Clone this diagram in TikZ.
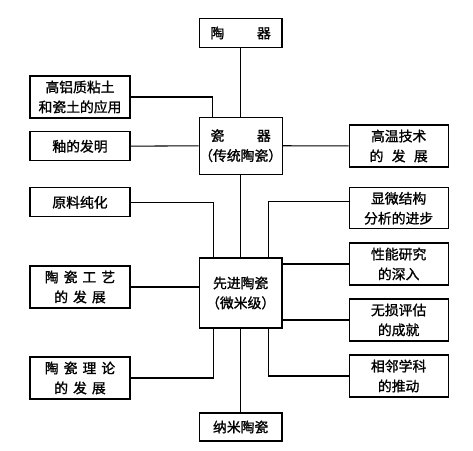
\documentclass[tikz,border=0pt]{standalone}
\usepackage{fontspec}
\newfontfamily\cjk[FakeBold=1.2]{Noto Sans CJK SC}
\newcommand{\zgap}{\hspace{0.15cm}}
\newcommand{\wgap}{\hspace{0.98cm}}
\tikzset{
  box/.style={draw,line width=1pt,align=center,inner sep=0pt,
    minimum width=3cm,minimum height=1.26cm},
  core/.style={box,minimum width=2.48cm},
  link/.style={line width=0.9pt}
}

\begin{document}
\begin{tikzpicture}[font=\cjk\fontsize{11.8pt}{17pt}\selectfont]
  \useasboundingbox (0,0) rectangle (14.19,-13.53);
  % main line
  \node[core,minimum height=0.87cm] (taoqi) at (7.22,-0.99) {陶\wgap 器};
  \node[core,minimum height=1.71cm] (ciqi) at (7.22,-4.37)
    {瓷\wgap 器\\（传统陶瓷）};
  \node[core,minimum height=2.1cm] (xianjin) at (7.22,-8.79)
    {先进陶瓷\\（微米级）};
  \node[core,minimum height=0.84cm] (nami) at (7.22,-12.81) {纳米陶瓷};

  % left side
  \node[box] (gaolv) at (2.4,-2.91) {高铝质粘土\\和瓷土的应用};
  \node[box,minimum height=0.87cm] (you) at (2.4,-4.39) {釉的发明};
  \node[box,minimum height=0.87cm] (yuanliao) at (2.4,-6.07) {原料纯化};
  \node[box] (gongyi) at (2.4,-8.61)
    {陶\zgap 瓷\zgap 工\zgap 艺\\的\zgap 发\zgap 展};
  \node[box] (lilun) at (2.4,-11.34)
    {陶\zgap 瓷\zgap 理\zgap 论\\的\zgap 发\zgap 展};

  % right side
  \node[box,minimum width=2.97cm] (gaowen) at (11.96,-4.38)
    {高温技术\\的\hspace{0.25cm}发\hspace{0.25cm}展};
  \node[box,minimum width=2.97cm,minimum height=1.23cm] (xianwei) at (11.96,-6.25)
    {显微结构\\分析的进步};
  \node[box,minimum width=2.97cm] (xingneng) at (11.96,-7.92) {性能研究\\的深入};
  \node[box,minimum width=2.97cm] (wusun) at (11.96,-9.6) {无损评估\\的成就};
  \node[box,minimum width=2.97cm] (xianglin) at (11.96,-11.28) {相邻学科\\的推动};

  \draw[link] (taoqi) -- (ciqi);
  \draw[link] (ciqi) -- (xianjin);
  \draw[link] (xianjin) -- (nami);
  \draw[link] (gaolv.east) -| ([xshift=-0.84cm]ciqi.north);
  \draw[link] (you) -- (ciqi);
  \draw[link] (ciqi) -- (gaowen);
  \draw[link] (yuanliao.east) -| ([xshift=-0.81cm]xianjin.north);
  \draw[link] ([yshift=0.2cm]xianwei.west) -| ([xshift=0.84cm]xianjin.north);
  \draw[link] (xingneng.west) -- (xingneng.west -| xianjin.east);
  \draw[link] (gongyi.east) -- (gongyi.east -| xianjin.west);
  \draw[link] (wusun.west) -- (wusun.west -| xianjin.east);
  \draw[link] (lilun.east) -| ([xshift=-0.81cm]xianjin.south);
  \draw[link] (xianglin.west) -| ([xshift=0.84cm]xianjin.south);
\end{tikzpicture}
\end{document}
